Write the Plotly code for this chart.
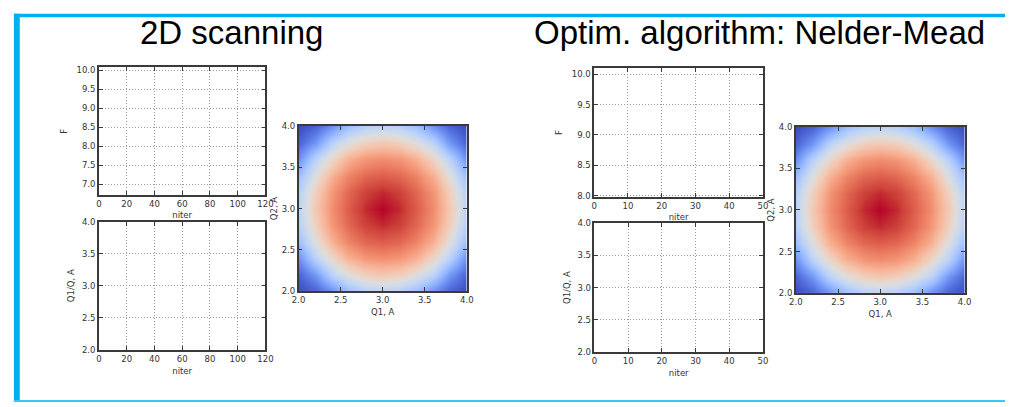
import plotly.graph_objects as go

W, H = 1013, 407

# Optimisation histories (no iterations recorded yet)
scan_niter, scan_F, scan_Q = [], [], []
nm_niter, nm_F, nm_Q = [], [], []

# Objective map over the (Q1, Q2) plane, normalised colour level 0..1
q_grid = [2.0, 2.2, 2.4, 2.6, 2.8, 3.0, 3.2, 3.4, 3.6, 3.8, 4.0]
f_map = [
    [0.00, 0.05, 0.16, 0.30, 0.37, 0.39, 0.37, 0.30, 0.16, 0.05, 0.00],
    [0.05, 0.18, 0.39, 0.50, 0.58, 0.61, 0.58, 0.50, 0.39, 0.18, 0.05],
    [0.16, 0.39, 0.55, 0.69, 0.76, 0.78, 0.76, 0.69, 0.55, 0.39, 0.16],
    [0.30, 0.50, 0.69, 0.80, 0.86, 0.88, 0.86, 0.80, 0.69, 0.50, 0.30],
    [0.37, 0.58, 0.76, 0.86, 0.93, 0.96, 0.93, 0.86, 0.76, 0.58, 0.37],
    [0.39, 0.61, 0.78, 0.88, 0.96, 1.00, 0.96, 0.88, 0.78, 0.61, 0.39],
    [0.37, 0.58, 0.76, 0.86, 0.93, 0.96, 0.93, 0.86, 0.76, 0.58, 0.37],
    [0.30, 0.50, 0.69, 0.80, 0.86, 0.88, 0.86, 0.80, 0.69, 0.50, 0.30],
    [0.16, 0.39, 0.55, 0.69, 0.76, 0.78, 0.76, 0.69, 0.55, 0.39, 0.16],
    [0.05, 0.18, 0.39, 0.50, 0.58, 0.61, 0.58, 0.50, 0.39, 0.18, 0.05],
    [0.00, 0.05, 0.16, 0.30, 0.37, 0.39, 0.37, 0.30, 0.16, 0.05, 0.00],
]

# Tick values
scan_niter_ticks = [0, 20, 40, 60, 80, 100, 120]
nm_niter_ticks = [0, 10, 20, 30, 40, 50]
scan_F_ticks = [7.0, 7.5, 8.0, 8.5, 9.0, 9.5, 10.0]
nm_F_ticks = [8.0, 8.5, 9.0, 9.5, 10.0]
q_ticks = [2.0, 2.5, 3.0, 3.5, 4.0]

titles = ["2D scanning", "Optim. algorithm: Nelder-Mead"]

coolwarm = [
    [0.0, "rgb(59,76,192)"], [0.0625, "rgb(77,104,215)"], [0.125, "rgb(98,130,234)"],
    [0.1875, "rgb(119,154,247)"], [0.25, "rgb(141,176,254)"], [0.3125, "rgb(163,194,255)"],
    [0.375, "rgb(184,208,249)"], [0.4375, "rgb(204,217,238)"], [0.5, "rgb(221,221,221)"],
    [0.5625, "rgb(236,211,197)"], [0.625, "rgb(245,196,173)"], [0.6875, "rgb(247,177,148)"],
    [0.75, "rgb(244,154,123)"], [0.8125, "rgb(236,127,99)"], [0.875, "rgb(222,96,77)"],
    [0.9375, "rgb(203,62,56)"], [1.0, "rgb(180,4,38)"],
]


def px_x(x0, x1):
    return [x0 / W, x1 / W]


def px_y(y0, y1):
    return [1 - y1 / H, 1 - y0 / H]


FRAME = "#3a3a3a"
TEXT = "#333333"
TICKFONT = dict(family="DejaVu Sans", size=8.5, color=TEXT)


def axis(domain, rng, ticks, title, anchor, fmt=None, grid=True, standoff=4):
    d = dict(
        domain=domain, range=rng, tickvals=ticks, anchor=anchor,
        showline=True, linecolor=FRAME, linewidth=1.5, mirror="allticks",
        ticks="inside", ticklen=4, tickwidth=1, tickcolor=FRAME,
        tickfont=TICKFONT, zeroline=False,
        showgrid=grid, gridcolor="#9a9a9a", griddash="1px,2px", gridwidth=1,
        title=dict(text=title, font=dict(family="DejaVu Sans", size=8.5, color=TEXT),
                   standoff=standoff),
        fixedrange=True,
    )
    if fmt:
        d["tickformat"] = fmt
    return d


fig = go.Figure()

# Line panels (empty histories)
fig.add_trace(go.Scatter(x=scan_niter, y=scan_F, mode="lines", xaxis="x", yaxis="y", showlegend=False))
fig.add_trace(go.Scatter(x=scan_niter, y=scan_Q, mode="lines", xaxis="x2", yaxis="y2", showlegend=False))
fig.add_trace(go.Scatter(x=nm_niter, y=nm_F, mode="lines", xaxis="x4", yaxis="y4", showlegend=False))
fig.add_trace(go.Scatter(x=nm_niter, y=nm_Q, mode="lines", xaxis="x5", yaxis="y5", showlegend=False))

# Objective maps
for xa, ya in (("x3", "y3"), ("x6", "y6")):
    fig.add_trace(go.Heatmap(
        x=q_grid, y=q_grid, z=f_map, colorscale=coolwarm, zmin=0, zmax=1,
        zsmooth="best", showscale=False, xaxis=xa, yaxis=ya, hoverinfo="skip",
    ))

layout = dict(
    width=W, height=H, margin=dict(l=0, r=0, t=0, b=0),
    paper_bgcolor="white", plot_bgcolor="white", showlegend=False,
    # 2D scanning
    xaxis=axis(px_x(93.3, 262.3), [0, 120], scan_niter_ticks, "niter", "y", standoff=4),
    yaxis=axis(px_y(64, 195), [6.71, 10.07], scan_F_ticks, "F", "x", fmt=".1f", standoff=8),
    xaxis2=axis(px_x(93.3, 262.3), [0, 120], scan_niter_ticks, "niter", "y2", standoff=5),
    yaxis2=axis(px_y(222.3, 353.3), [2, 4], q_ticks, "Q1/Q, A", "x2", fmt=".1f", standoff=6),
    xaxis3=axis(px_x(296, 466.7), [2, 4], q_ticks, "Q1, A", "y3", fmt=".1f", grid=False, standoff=5),
    yaxis3=axis(px_y(124, 293.3), [2, 4], q_ticks, "Q2, A", "x3", fmt=".1f", grid=False, standoff=3),
    # Nelder-Mead
    xaxis4=axis(px_x(596, 767.3), [0, 50], nm_niter_ticks, "niter", "y4", standoff=4),
    yaxis4=axis(px_y(64.7, 196.7), [7.98, 10.1], nm_F_ticks, "F", "x4", fmt=".1f", standoff=8),
    xaxis5=axis(px_x(596.3, 767.3), [0, 50], nm_niter_ticks, "niter", "y5", standoff=5),
    yaxis5=axis(px_y(223.7, 355.7), [2, 4], q_ticks, "Q1/Q, A", "x5", fmt=".1f", standoff=6),
    xaxis6=axis(px_x(800.7, 972), [2, 4], q_ticks, "Q1, A", "y6", fmt=".1f", grid=False, standoff=5),
    yaxis6=axis(px_y(125, 295.3), [2, 4], q_ticks, "Q2, A", "x6", fmt=".1f", grid=False, standoff=3),
)
fig.update_layout(**layout)

# Section headings
for text, cx in zip(titles, (227.5, 763.5)):
    fig.add_annotation(
        text=text, x=cx / W, y=1 - 28 / H, xref="paper", yref="paper",
        xanchor="center", yanchor="middle", showarrow=False,
        font=dict(family="Liberation Sans, Arial", size=33, color="black"),
    )

# Slide frame
BLUE = "#00b0f0"
frame = [
    (7, 9, W, 12.5, BLUE),
    (7, 9, 13, H, BLUE),
    (7, 405, W, H, "#3cc8f5"),
]
for x0, y0, x1, y1, col in frame:
    fig.add_shape(type="rect", xref="paper", yref="paper",
                  x0=x0 / W, x1=x1 / W, y0=1 - y1 / H, y1=1 - y0 / H,
                  fillcolor=col, line=dict(width=0), layer="above")

fig.write_html("out.html", config={"displayModeBar": False})
